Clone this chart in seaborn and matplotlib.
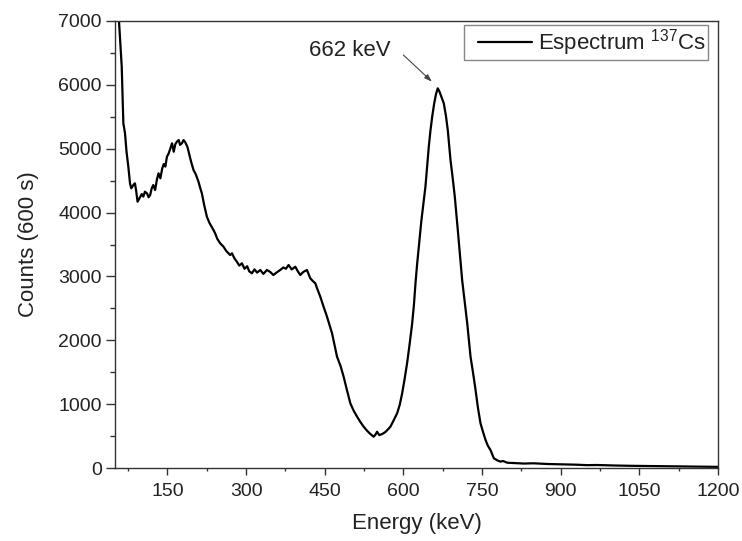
import matplotlib
matplotlib.use('Agg')
import matplotlib.pyplot as plt
from matplotlib.ticker import MultipleLocator
from matplotlib.lines import Line2D
from matplotlib.legend_handler import HandlerLine2D
import seaborn as sns

# Cs-137 spectrum, values
energy = [52, 57.6, 62.8, 65.9, 69, 72, 75.4, 78.6, 81, 85, 88, 90.5, 93, 97,
          101, 104, 107, 111, 114, 117, 120, 123, 126.5, 130, 133, 136.5, 140,
          143, 146, 149, 152, 155, 158.7, 162, 165, 168, 171.5, 174, 177.6,
          180.7, 184, 188, 192, 195, 199.7, 204, 209.2, 212, 215.6, 220, 225.2,
          230, 237.7, 241, 245, 250.5, 257, 262, 269.6, 273, 278, 282.4, 287,
          292, 297, 302, 306, 311, 316, 321, 327, 333, 339.7, 346, 352, 358,
          365, 371, 376, 381, 387, 393.8, 398, 403.3, 409, 416, 419, 422.4,
          427, 432, 436, 441.5, 448, 454.3, 459, 463.9, 468, 473.4, 480, 486,
          492, 498.8, 505, 511.6, 518, 524.2, 530, 536, 543.3, 546.5, 549.8,
          554, 559.4, 565, 570, 575.2, 581, 588, 593, 597.6, 602, 607, 612,
          616.7, 620, 623, 626, 629.3, 632.5, 634.4, 638, 642, 645, 648.4,
          651.5, 654.9, 658.5, 662, 665.5, 669, 673, 677, 681, 684.6, 687,
          689.8, 694, 698, 701, 704, 708, 712, 717, 721.7, 725, 728, 733,
          737.6, 742, 747, 752, 756.7, 761, 766, 772.5, 779, 785, 790, 798,
          810, 830, 848, 874.5, 900, 930, 950, 970, 1000, 1030, 1065.5, 1100,
          1130, 1160, 1192, 1200]
counts = [9500, 7000, 6284, 5398, 5246, 4950, 4718, 4458, 4380, 4431, 4458,
          4330, 4170, 4230, 4290, 4250, 4327, 4300, 4240, 4275, 4380, 4431,
          4353, 4520, 4615, 4536, 4690, 4760, 4720, 4875, 4920, 4990, 5085,
          4953, 5070, 5110, 5136, 5060, 5085, 5136, 5100, 5031, 4900, 4800,
          4666, 4600, 4483, 4400, 4302, 4120, 3935, 3840, 3727, 3675, 3590,
          3519, 3465, 3400, 3335, 3362, 3280, 3230, 3170, 3206, 3120, 3160,
          3080, 3049, 3110, 3060, 3101, 3040, 3101, 3070, 3022, 3060, 3101,
          3140, 3120, 3179, 3110, 3152, 3090, 3022, 3070, 3101, 3040, 2971,
          2930, 2892, 2800, 2682, 2520, 2369, 2240, 2109, 1950, 1743, 1600,
          1430, 1230, 1013, 900, 804, 720, 647, 590, 540, 490, 520, 568, 515,
          532, 560, 600, 647, 740, 857, 990, 1170, 1380, 1640, 1950, 2266,
          2550, 2892, 3180, 3465, 3727, 3884, 4130, 4405, 4700, 5031, 5280,
          5501, 5700, 5850, 5946, 5890, 5800, 5711, 5520, 5293, 5080, 4823,
          4540, 4248, 3980, 3700, 3330, 2944, 2600, 2266, 2000, 1743, 1480,
          1221, 950, 700, 560, 438, 350, 282, 152, 120, 100, 110, 83, 78, 70,
          74, 63, 58, 52, 45, 47, 40, 35, 31, 28, 24, 22, 20, 18]

sns.set_style('white')
plt.rcParams['font.family'] = ['Liberation Sans', 'DejaVu Sans']
plt.rcParams['mathtext.fontset'] = 'custom'
plt.rcParams['mathtext.rm'] = 'Liberation Sans'
plt.rcParams['mathtext.default'] = 'regular'

text_col = '#222222'
fig = plt.figure(figsize=(7.42, 5.41), dpi=100)
ax = fig.add_axes([0.155, 0.1349, 0.8127, 0.8263])

sns.lineplot(x=energy, y=counts, color='black', linewidth=1.6, sort=False,
             label='Espectrum $^{137}$Cs', ax=ax)

ax.set_xlim(50, 1200)
ax.set_ylim(0, 7000)
ax.set_xticks(range(150, 1201, 150))
ax.set_yticks(range(0, 7001, 1000))
ax.xaxis.set_minor_locator(MultipleLocator(75))
ax.yaxis.set_minor_locator(MultipleLocator(500))
ax.tick_params(axis='both', which='both', direction='out', colors='#333333',
               labelcolor=text_col, labelsize=14, bottom=True, left=True,
               top=False, right=False, width=1)
ax.tick_params(axis='x', which='major', length=5, pad=6)
ax.tick_params(axis='x', which='minor', length=2.5)
ax.tick_params(axis='y', which='major', length=6.5, pad=3)
ax.tick_params(axis='y', which='minor', length=3.5)
for sp in ax.spines.values():
    sp.set_color('#333333')
    sp.set_linewidth(1)

ax.set_xlabel('Energy (keV)', fontsize=16, color=text_col, labelpad=9)
ax.set_ylabel('Counts (600 s)', fontsize=16, color=text_col, labelpad=14)

# peak label with arrow
ax.text(576, 6456, '662 keV', fontsize=16, color=text_col,
        ha='right', va='baseline')
ax.annotate('', xy=(654.5, 6049), xytext=(600, 6467),
            arrowprops=dict(arrowstyle='-|>,head_length=0.45,head_width=0.15',
                            color='#444444', lw=0.8, shrinkA=0, shrinkB=0))

leg = ax.legend(loc='upper right', bbox_to_anchor=(0.984, 0.991),
                borderaxespad=0, fontsize=16, handlelength=2.95,
                handletextpad=0.3, borderpad=0.1, fancybox=False,
                framealpha=1, edgecolor='#888888',
                handler_map={Line2D: HandlerLine2D(xpad=0.55)})
leg.get_frame().set_linewidth(1)
for t in leg.get_texts():
    t.set_color(text_col)

fig.savefig('out.png', dpi=100)
